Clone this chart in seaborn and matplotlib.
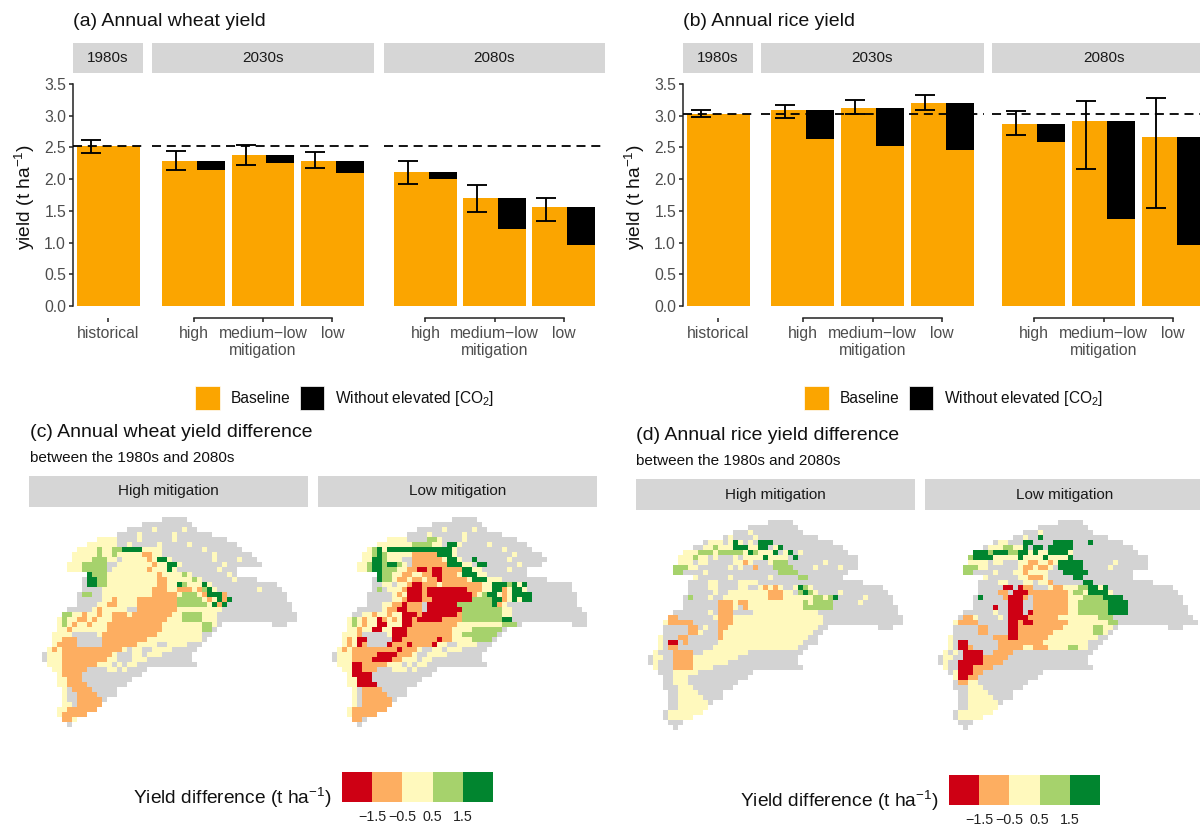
import numpy as np
import pandas as pd
import seaborn as sns
import matplotlib
matplotlib.use('Agg')
import matplotlib.pyplot as plt
from matplotlib.colors import ListedColormap
from matplotlib.patches import Patch, Rectangle

sns.set_theme(style='white')
plt.rcParams['font.family'] = ['Liberation Sans', 'DejaVu Sans']
plt.rcParams['mathtext.fontset'] = 'custom'
plt.rcParams['mathtext.rm'] = 'Liberation Sans'
plt.rcParams['mathtext.default'] = 'regular'

W, H = 1200, 827

# bar panels
periods = ['1980s', '2030s', '2030s', '2030s', '2080s', '2080s', '2080s']
scenarios = ['historical', 'high', 'medium\u2212low\nmitigation', 'low',
             'high', 'medium\u2212low\nmitigation', 'low']

wheat_baseline = [2.52, 2.29, 2.38, 2.29, 2.12, 1.71, 1.56]
wheat_no_co2 = [2.52, 2.14, 2.26, 2.095, 2.00, 1.22, 0.965]
wheat_err_low = [2.41, 2.15, 2.225, 2.175, 1.93, 1.48, 1.335]
wheat_err_high = [2.62, 2.44, 2.545, 2.435, 2.29, 1.90, 1.70]

rice_baseline = [3.03, 3.085, 3.115, 3.20, 2.87, 2.92, 2.66]
rice_no_co2 = [3.03, 2.63, 2.525, 2.46, 2.58, 1.37, 0.955]
rice_err_low = [2.98, 2.97, 3.02, 3.085, 2.69, 2.16, 1.55]
rice_err_high = [3.095, 3.175, 3.25, 3.32, 3.07, 3.23, 3.28]

y_ticks = [0.0, 0.5, 1.0, 1.5, 2.0, 2.5, 3.0, 3.5]

# maps: one letter per grid cell, R/O/Y/L/D are the five classes, G is no change area
basin_indent = [24, 20, 17, 15, 11, 9, 7, 6, 6, 5, 5, 9, 8, 8, 8, 7, 7, 7, 5, 4, 3,
                3, 3, 2, 2, 2, 1, 0, 0, 1, 2, 3, 3, 3, 4, 4, 4, 4, 3, 3, 4, 5]

wheat_high_map = [
    'GGGGG',
    'GGGGGGGGGG',
    'GGGGGYGGGGGYGG',
    'GGGGYGGGGGGYGGGGGGG',
    'YYYYGGGGYGGGGGGYGGGGGGGGGG',
    'YYYYYYGGYGGGGGYGGGGGYGGGGGGGGG',
    'YYYYLYYLLDDDDYYYYGGGGGGGGYGGGGGGG',
    'YYYYYLYYLYYYYYOOYYGGGGGGGGGGYGGGGGGG',
    'YYYYLLLYYGYYYYYOYDDYGGGGGGGGYGGGGYGGG',
    'YYYLLLLLGGYYYYYYYOYYDDYGGGGGGGGYGGGGGGG',
    'YYYLLLLLGYYYYYYYOYYYDYGGGGGGGGYGGG',
    'DLLLYYYYYYYYYYOYYYYLYGGGGGGGYG',
    'GDDLLYYYYYYYYYYOOYYYYYLYGGGGGGYGGGG',
    'GDDLLYYYYYYYYYYOOYYDLYYYDYGGGGGGGGGGGGG',
    'GGGGYYYYYYYYYYOOOYYOOOYOLDYGGGGGGGGYGGGG',
    'GLLGGYYYYYYYYYYOOOOOYLLLYODDDOGGGGGGGGGGGG',
    'GGGGGYYOYYYYOOOOOOOOLLLLLYOYDODGGGGGGGGGGG',
    'GGGGYYOOYYYYOOOOOOOOLLLLLLYDODGGGGGGGGGGGGG',
    'GGGGGYOYYYYYGGOOOOOOOOYYYYYYYYYGGGGGGGGGGGGGG',
    'LLYYOYYOYYOOOYOOOOOOOOYYLLLLYYYGGGGGGGGGGGGGGGG',
    'YLYYOOYOYYYOOOOOOOOOOOYYYLLLLYYYGGGGGGGGGGGGGGGG',
    'YLYOYYOYYYOOOOOOOOOOOYYYYYYYYLLYG..........GGG',
    'YYOYYYYYYYOOOOOOOOOOOYYYYYYYYLLG',
    'YYYYGGGGGYOOOOOOOOOOOYYYYYYYYYGG',
    'YYOOOGGGGGOOOOOOOOOYYYYYYYYYYYG',
    'YOOOOGGGGGOOOOOOOYYYYGGYYYYGGG',
    'YOYOOOOOOOOOOOOYGYYGGYYYYGGGGG',
    'GYYYOOOOOOOOOOYGGGYYGYYYGGGGGG',
    'GYYYOOOOOOOOOYYGGGYYYGGGGGGGGG',
    'YYYOOOOOOOYYYGYGYYGGGGGGGGGGGG',
    'YYOOOOOGGGGYYGYGGGG',
    'YOOOOGGGGGGGGGGGG',
    'YYOOOGGGGGGGGGG',
    'YYOOOOGGGGGGGG',
    'YGOOOOGGGGG',
    'YGGOOOOGGGG',
    'YGGOOOOOG',
    'YYGOOOOO',
    'YYOOOOOO',
    'YOOOOO',
    'OOY',
    'G',
]

wheat_low_map = [
    'GGGGG',
    'GGGGGGGGGG',
    'GGGGGYGGGGGYGG',
    'GGGGYGGGGGGYGGGGGGG',
    'YYYYGGGGLLYGGGGYGGGGGGGGGG',
    'YYYYYYYLLLLYYGDDYGGGGGYGGGGGGG',
    'YLDYDDDDDDDDDDDDDYGGGGGGGGGYGGGGG',
    'YYLDLYYYYYOOOOODDDYGGGGGGGGGGGYGGGGG',
    'YYDDLYYYGGOOOOOOYDDYGGDGGGGGGYGGGGGGG',
    'YYLDDLDDLYGOOOOOOODDDYYGDDGGGGGGYGGGG',
    'YYLDDLLLYYOORRORROOOODDYYGGGGGYGGG',
    'DLLYYOOYYOORROOOYDDDYYGGGGGGGG',
    'GDLLYOOYOOYOOROOOOOYDDDYYYGGGGGGGGG',
    'GGYYGYYORROOOYOOOOOOOOYYDDDLDYDGGGGGGGGG',
    'GLGYYYORRRORRRRRRRROOOYYDDOYDDYGGGGGGGGG',
    'GGGGGYOYRRRORRRRRRRRROYLDDYOYDDDDGGGGGGGGG',
    'GGGGGYYORRROORRRRRRRRLLLLDDOYDYDDGGGGGGGGG',
    'GGGYYOOROOOGRRRRRRLLLLLLLDOYGGGGGGGGGGGGGG',
    'GGGGGYOORROOOGRRRRRRRLLLLLLLLYYGGGGGGGGGGGGGG',
    'GGYYOYYOYYRRRORRRRRRROLLLLLLLLYYGGGGGGGGGGGGGGG',
    'YLYOYYROYOYRRORRRRROOOOLLLLLLLLDDGGGGGGGGGGGGGGG',
    'YLYOYYRRYYYRROOOOOOOOOYYYYYYYYYLLLG..........GGG',
    'YYOYYRRYYRRROOOOOOOOOYYYYLLLLLLG',
    'YYYOGGGGGYRRROOOOOOOOOYYLLLLLLLG',
    'YOYRRGGGGGRROOOOOOOROOYYYYLLLLG',
    'YOYROGGGGROOOROOOORYYGGYYYYGGG',
    'YOYOOOOOOOOOROOOYGGYYGYYYGGGGG',
    'GYYYOOOOORRRROOOYGGYYYYGGGGGGG',
    'GYYYOOOORRRROOYYYGYYGGGGGGGGGG',
    'YYYRROOOOOYYYGYGYYGGGGGGGGGGGG',
    'YYRROOOGGGYYYGYGGGG',
    'YRRRRGGGGGGGGGGGG',
    'YYRRRGGGGGGGGGG',
    'YYRRRRGGGGGGGG',
    'YGOOOOGGGGG',
    'YGOOOOOGGGG',
    'YGOOOOOOG',
    'YGOOOOOO',
    'YOOOOOOO',
    'YOOOOO',
    'OOG',
    'G',
]

rice_high_map = [
    'GGGGG',
    'GGGGGGGGGG',
    'GGGYGGGGGGGGGG',
    'GYGGGGYGGGGGGGGGGGG',
    'GYYYGYDYGYGDDDGGGGGGGGGGGG',
    'GGYYLYYYDDDYYDDGYDGGGGGGGGGGGG',
    'YYYLLLYLLLLLYDLYYYDGYDGYGGGGGGGGG',
    'YYYLYYGYGGGYGYYYYDYYYYGDGGGGGGGGGGGG',
    'YYYGYYGGGGGYYOYGGGYLLLGGGGGGGYGGGGGG',
    'LLLYYGGGGGGYGYGGOGGGLLLLGGGGYGGGGYGGG',
    'LLGGGGYGGGGGGGGGGGGGGLLLLGGGGGGGGGG',
    'YGGGGGGYGGGGGGGYGGGGGLLGGGGGGG',
    'GGGGYYGGGGYYYYGGGGGGGGGGGGGGGGGGGGG',
    'GGGGYYGGGGYYGGYOYOYGGYDLYGGGGGGGGGGGGGG',
    'GGGGGYGGYYYYYYYYOOOYYGLDLYGGGGYGGGGGGGGG',
    'GLGGGYGGYYYYYYYYYOOOYYYYYYLLYLDGGGGGYGGGGG',
    'GGGGGGGOOOYOOYYYYYYYYYYYLYLLLLGGGGGYGGGGGG',
    'GGGGGGGOOOYGOYYYYYYYYYYYLLLLLLGGGGGGGGGGGGG',
    'GGGGGGGYGOOOGGGGYYYYYYYYYYYYYGGGGGGGGGGGGGGGG',
    'OOGGGGGGGYOOOYYYYYYYYYYYYYYYYYYGGGGGGGGGGGGGGGG',
    'YOOOOOGGGGGOOOYYYYYYYYYYYYYYYYYYGGGGGGGGGGGGGGGG',
    'GGGGGOOGYGGOOYYYYYYYYYYYYYYYYYYGG..........GGG',
    'GGGGGOOYGGGOYYYYYYYYYYYYYYYYYYGG',
    'YGGGOOGGGGGGOYYYYYYYYYYYYYYYYYGG',
    'YGRRGOGGGGGGYYYYYYYYYYYYYYYYYGGG',
    'YGOOGGGGGGGYYYYYYYYYYYYYYYYYGG',
    'YGGGOOOOGGYYYYYYYYYGGGGGGGGGGG',
    'GYYGGOOOOYYYYYYYYYGGGGGGGGGGGG',
    'GYGGGOOOOYYYYYYYGGGGGGGGGGGGGG',
    'YGGGOOOOYYYYGGGGGGGGGGGGGGGGGG',
    'GGGYYYYYGGGGGGGGGGG',
    'GGYYYGGGGGGGGGGGG',
    'GGYYYGGGGGGGGGG',
    'GGGYYYGGGGGGGG',
    'GGYYYYGGGGG',
    'GGYYYYYGGGG',
    'GGYYYYYYG',
    'GGYYYYYY',
    'GYYYYYYY',
    'GYYYYY',
    'GGG',
    'G',
]

rice_low_map = [
    'GGGGG',
    'GGGGGGGGGG',
    'GGGYGGGGGGGGGG',
    'GGYGGDGGGGGGGGGGGGG',
    'GYYGGGDDGGGGDDDDGGGDGGGGGG',
    'GYYYLLYYDGDDGDDDDDGGGGGGGGGGGG',
    'DDDLDDDLLDDYDYYDDDDYGGGGGGGGGGGGG',
    'LDDDDYYYYYDYYYYDYYYYDGGGGGGGGGGGGGGG',
    'YYYYGYYGGGYYOOYYOYDDDDDGGGGGGYGGGGGG',
    'LLLYYGGGGGGYOOYOOYGDDDDDGGGGGYGGGGGGG',
    'LLGGGGYGGGYYOYYYYGGGDDDDDGGGGGGGGG',
    'YGGGGGGYYOOOYGGGGGDDGGGGGGGGGG',
    'GGGGYYGGGYYGYYOGGGGGGDDGGGGGGGGGGGG',
    'GGGGGRRGROOGGGYOOYYYLLDDYDGGGGGGGGGGGGG',
    'GGGGOOGRRROOOOOOOOYLLYDDDDYGGGGGGGGGGGGG',
    'GDGGGGORRROGOOOOOOOYYYLLLLDDDDGGGGGGGGGGGG',
    'GGGGGGGRRRGGOOOOOOOYYLLLLLLDDDDGGGGGGGGGGG',
    'GGGGRGGRRRGGOOOOOOOYYLLLLLLDDDDGGGGGGGGGGGG',
    'GGGGGGYGGRRRGROOOOOOOYYLLLLLLDDDDGGGGGGGGGGGG',
    'GOOYGGGGYGRRRROOOOOOYYYYYYYYLLLGGGGGGGGGGGGGGGG',
    'YOOOOGGGGGGRRORROOOOOOOYYYYYYYYLLGGGGGGGGGGGGGGGG',
    'GGGGGOOGGGGRROOOOOOOOOYYYYYYLLYYG..........GGG',
    'GGGGGOOGGGGRROOOOOOOYYYYYYYYLLYG',
    'YGGGGGGGGOOORROOOOOOYYYYYYYYYYGG',
    'YGRRGGGGGGOOOOOOOOOYYYYYYYYYGGG',
    'YGRROGGGGGOOOOOYYOOOYYYYLLYYGG',
    'YGYGRRRRGGOOOOGGGGGGGGGGGGGGGG',
    'GYYGGRRRROOOOOGGGGGGGGGGGGGGGG',
    'GYGGRRRRROOOOGGGGGGGGGGGGGGGGG',
    'YGGRRROOOOGGGGGGGGGGGGGGGGGGGG',
    'GYRRROOGGGGGGGGGGGG',
    'YRROOGGGGGGGGGGGG',
    'GOOYYGGGGGGGGGG',
    'GGGYYYGGGGGGGG',
    'GGYYYYGGGGG',
    'GGYYYYYGGGG',
    'GGYYYYYYG',
    'GGYYYYYY',
    'GYYYYYYY',
    'GYYYYY',
    'GGG',
    'G',
]

class_colors = ['#CE0014', '#FDAE61', '#FFF9BD', '#A6D26C', '#01852F']
class_letters = 'ROYLD'
class_ticks = ['\u22121.5', '\u22120.5', '0.5', '1.5']
class_levels = [[0, 1, 2, 3, 4]]
GREY = '#D3D3D3'
ORANGE = '#FBA500'


def new_axes(x0, y0, x1, y1):
    # pixel box of the reference, y from the top
    return fig.add_axes([x0 / W, 1 - y1 / H, (x1 - x0) / W, (y1 - y0) / H])


def strip(x0, y0, x1, y1, label):
    fig.add_artist(Rectangle((x0 / W, 1 - y1 / H), (x1 - x0) / W, (y1 - y0) / H,
                             transform=fig.transFigure, fc='#D6D6D6', ec='none'))
    fig.text((x0 + x1) / 2 / W, 1 - (y0 + y1) / 2 / H, label, ha='center', va='center',
             fontsize=11, color='#1a1a1a')


def label(x, y, text, size, **kw):
    fig.text(x / W, 1 - y / H, text, fontsize=size, va='center', color='#111111', **kw)


def bar_panel(boxes, title, baseline, no_co2, err_low, err_high):
    df = pd.DataFrame({'period': periods, 'scenario': scenarios, 'baseline': baseline,
                       'no_co2': no_co2, 'low': err_low, 'high': err_high})
    reference = df['baseline'].iloc[0]
    for i, (name, x0, x1) in enumerate(boxes):
        sub = df[df['period'] == name].reset_index(drop=True)
        strip(x0, 43, x1, 73, name)
        ax = new_axes(x0, 84, x1, 306)
        sns.barplot(data=sub, x='scenario', y='baseline', color=ORANGE, saturation=1,
                    width=0.9, linewidth=0, ax=ax)
        pos = np.arange(len(sub))
        if name != '1980s':
            ax.bar(pos + 0.25, sub['baseline'] - sub['no_co2'], bottom=sub['no_co2'],
                   width=0.4, color='black', linewidth=0)
        ax.errorbar(pos - 0.25, sub['baseline'],
                    yerr=[sub['baseline'] - sub['low'], sub['high'] - sub['baseline']],
                    fmt='none', ecolor='black', elinewidth=1.35, capsize=7.5, capthick=1.35, zorder=5)
        ax.axhline(reference, color='black', lw=1.3, ls=(0, (5, 3.2)), zorder=6)
        ax.set_ylim(0, 3.5)
        if name == '1980s':
            ax.set_xlim(-0.5, 0.5)
        else:
            ax.set_xlim(-0.6, 2.6)
        ax.set_xlabel('')
        ax.set_ylabel('')
        ax.set_yticks(y_ticks)
        ax.set_yticklabels([f'{v:.1f}' for v in y_ticks])
        ax.patch.set_alpha(0)
        for s in ['top', 'right']:
            ax.spines[s].set_visible(False)
        ax.spines['bottom'].set_position(('outward', 8.6))
        ax.spines['bottom'].set_bounds(pos[0], pos[-1])
        ax.spines['bottom'].set_color('#222222')
        ax.spines['bottom'].set_linewidth(1.1)
        ax.tick_params(axis='x', length=3, width=1.1, color='#222222', labelsize=11.3,
                       labelcolor='#4d4d4d', pad=2.5, bottom=True)
        if i == 0:
            ax.spines['left'].set_color('#222222')
            ax.spines['left'].set_linewidth(1.1)
            ax.tick_params(axis='y', length=3, width=1.1, color='#222222', labelsize=11.3,
                           labelcolor='#4d4d4d', pad=2, left=True)
        else:
            ax.spines['left'].set_visible(False)
            ax.tick_params(axis='y', left=False, labelleft=False)
    x_left = boxes[0][1]
    label(x_left, 22, title, 14)
    fig.text((x_left - 48) / W, 1 - 197 / H, 'yield (t ha$^{-1}$)', rotation=90, ha='center',
             va='center', fontsize=13.8, color='#111111')


def bar_legend(x_center, y):
    handles = [Patch(fc=ORANGE, ec='white', lw=0.5), Patch(fc='black', ec='white', lw=0.5)]
    fig.legend(handles, ['Baseline', 'Without elevated [CO$_2$]'], ncol=2, loc='center',
               bbox_to_anchor=(x_center / W, 1 - y / H), frameon=False, fontsize=11.2,
               handlelength=1.55, handleheight=2.0, handletextpad=0.7, columnspacing=0.65,
               borderpad=0, labelcolor='#111111')


def cell_code(ch):
    if ch == 'G':
        return 5
    if ch == '.':
        return np.nan
    return class_letters.index(ch)


def map_panel(rows, x0, y0):
    # 5 px per cell
    grid = np.full((len(rows), 52), np.nan)
    for r, row in enumerate(rows):
        for c, ch in enumerate(row):
            grid[r, basin_indent[r] + c] = cell_code(ch)
    ax = new_axes(x0, y0, x0 + 52 * 5, y0 + len(rows) * 5)
    sns.heatmap(grid, mask=np.isnan(grid), cmap=ListedColormap(class_colors + [GREY]), vmin=-0.5,
                vmax=5.5, cbar=False, xticklabels=False, yticklabels=False, ax=ax)
    ax.axis('off')


def scale_bar(x0, y0):
    ax = new_axes(x0, y0, x0 + 151, y0 + 30)
    sns.heatmap(class_levels, cmap=ListedColormap(class_colors), cbar=False, yticklabels=False, ax=ax)
    ax.set_xticks([1, 2, 3, 4])
    ax.set_xticklabels(class_ticks, rotation=0, fontsize=10.3, color='#222222')
    ax.tick_params(axis='x', length=0, pad=6)
    label(x0 - 209, y0 + 26, 'Yield difference (t ha$^{-1}$)', 13.8)


fig = plt.figure(figsize=(12, 8.27), dpi=100)

bar_panel([('1980s', 73, 143), ('2030s', 152, 374), ('2080s', 384, 605)],
          '(a) Annual wheat yield', wheat_baseline, wheat_no_co2, wheat_err_low, wheat_err_high)
bar_panel([('1980s', 683, 753), ('2030s', 761, 984), ('2080s', 992, 1215)],
          '(b) Annual rice yield', rice_baseline, rice_no_co2, rice_err_low, rice_err_high)
bar_legend(345, 398)
bar_legend(954, 398)

label(30, 432, '(c) Annual wheat yield difference', 14)
label(30, 458, 'between the 1980s and 2080s', 11)
label(636, 435, '(d) Annual rice yield difference', 14)
label(636, 461, 'between the 1980s and 2080s', 11)

strip(29, 476, 308, 507, 'High mitigation')
strip(318, 476, 597, 507, 'Low mitigation')
strip(636, 479, 915, 510, 'High mitigation')
strip(925, 479, 1204, 510, 'Low mitigation')

map_panel(wheat_high_map, 42, 517)
map_panel(wheat_low_map, 332, 517)
map_panel(rice_high_map, 648, 520)
map_panel(rice_low_map, 938, 520)

scale_bar(342, 772)
scale_bar(949, 775)

fig.savefig('out.png', dpi=100)
